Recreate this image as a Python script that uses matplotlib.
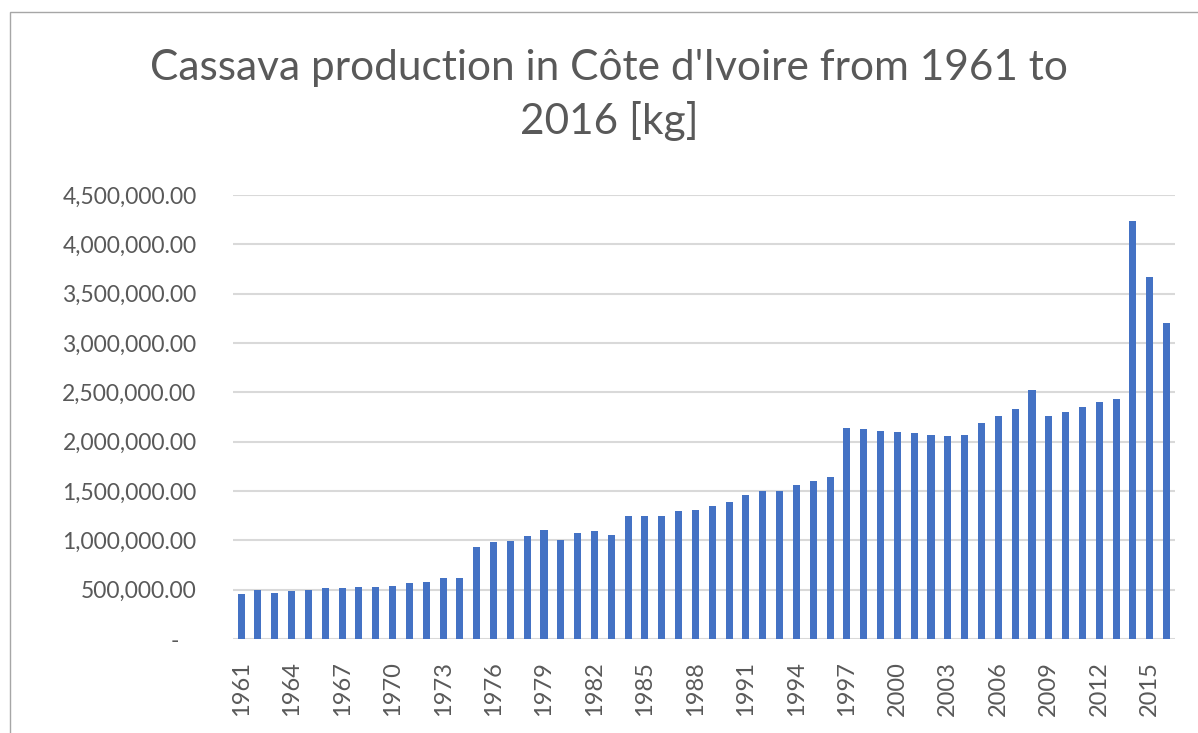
import matplotlib
matplotlib.use("Agg")
import matplotlib.pyplot as plt
import matplotlib.patches as mpatches
from matplotlib.ticker import FuncFormatter, MultipleLocator

years = list(range(1961, 2017))
production = [
    456000, 497000, 466000, 487000, 497000, 517000, 517000, 527000, 527000, 537000,
    568000, 578000, 619000, 619000, 936000, 986000, 997000, 1047000, 1108000, 1007000,
    1078000, 1098000, 1057000, 1243000, 1243000, 1243000, 1294000, 1304000, 1345000, 1385000,
    1456000, 1500000, 1500000, 1557000, 1605000, 1645000, 2135000, 2125000, 2105000, 2095000,
    2085000, 2064000, 2054000, 2064000, 2186000, 2260000, 2332000, 2528000, 2260000, 2301000,
    2352000, 2406000, 2436000, 4233000, 3668000, 3204000,
]
title = "Cassava production in Côte d'Ivoire from 1961 to\n2016 [kg]"

plt.rcParams['font.family'] = ['Lato', 'DejaVu Sans']
txt = '#595959'

W, H = 1198, 733
fig = plt.figure(figsize=(W / 100, H / 100), dpi=100)
ax = fig.add_axes([232.7 / W, 1 - 639 / H, (1175 - 232.7) / W, (639 - 195) / H])

x = list(range(len(years)))
ax.bar(x, production, width=0.42, color='#4472C4', zorder=3)
ax.set_xlim(-0.5, len(years) - 0.5)
ax.set_ylim(0, 4500000)
ax.yaxis.set_major_locator(MultipleLocator(500000))
ax.yaxis.set_major_formatter(FuncFormatter(lambda v, p: "-   " if v == 0 else f"{v:,.2f}"))
ax.grid(axis='y', color='#d9d9d9', linewidth=1.5, zorder=0)
ax.set_axisbelow(True)
for s in ax.spines.values():
    s.set_visible(False)

ax.set_xticks(x[::3])
ax.set_xticklabels([str(y) for y in years[::3]], rotation=90)
ax.tick_params(axis='x', length=0, pad=16, labelsize=17, labelcolor=txt)
ax.tick_params(axis='y', length=0, pad=26, labelsize=16.5, labelcolor=txt)

fig.text(609 / W, 1 - 95 / H, title, ha='center', va='center', fontsize=30.5,
         color=txt, linespacing=1.45)

border = mpatches.Rectangle((10 / W, -0.2), 2, 1 - 12 / H + 0.2, transform=fig.transFigure,
                            fill=False, edgecolor='#a6a6a6', linewidth=1.0)
fig.patches.append(border)

fig.savefig("out.png", dpi=100)
